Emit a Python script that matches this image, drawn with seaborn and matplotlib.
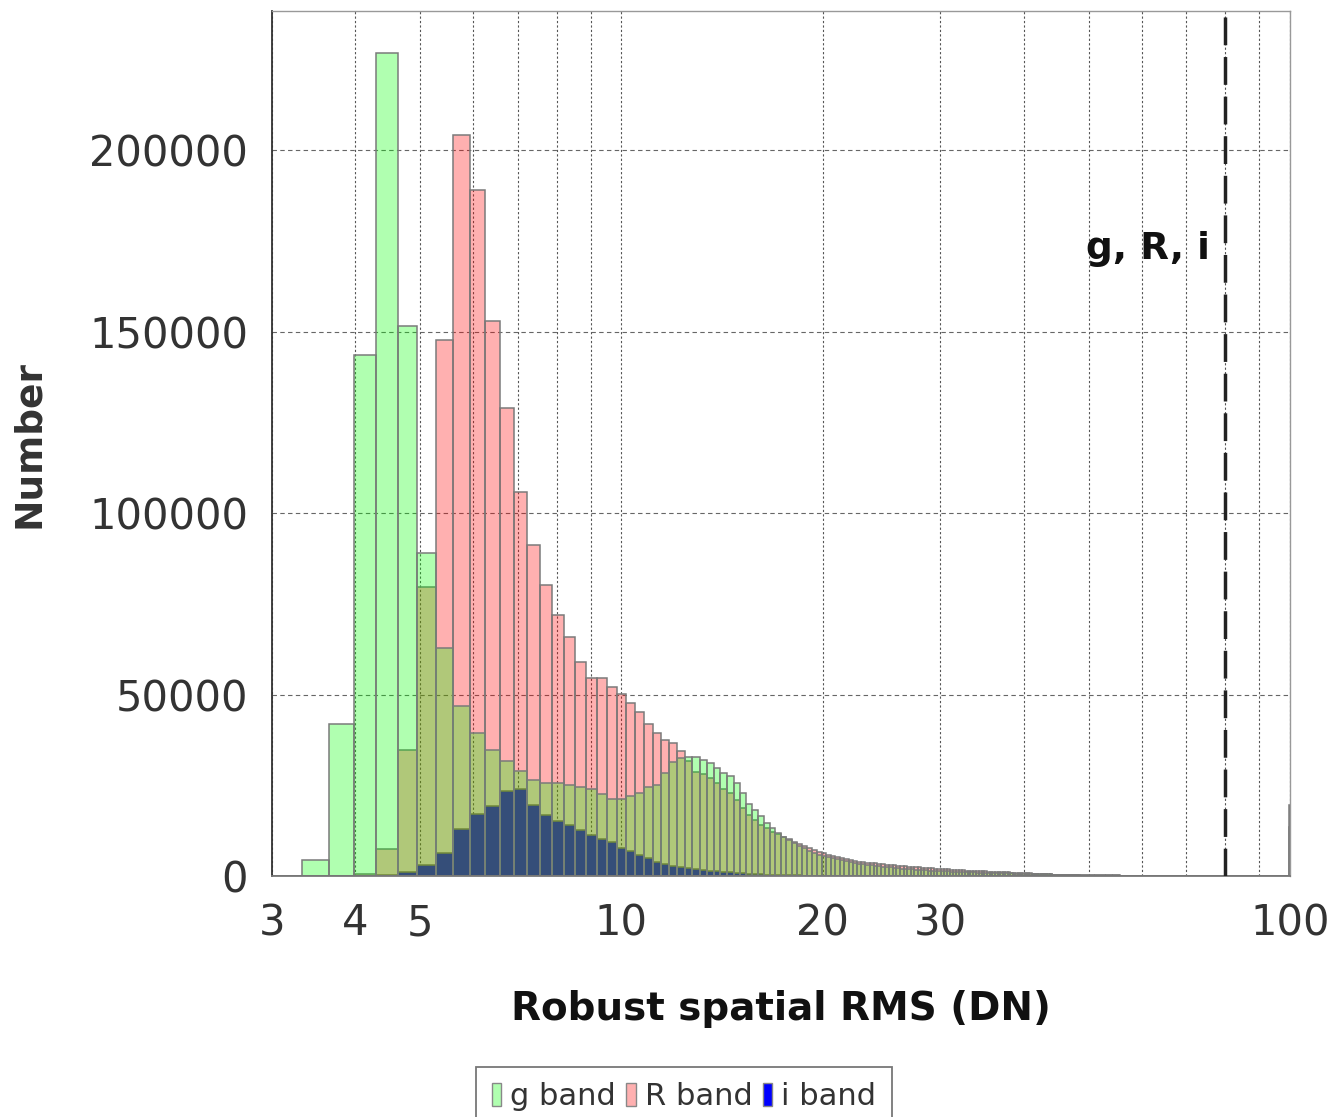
import numpy as np
import pandas as pd
import matplotlib
matplotlib.use("Agg")
import matplotlib.pyplot as plt
import seaborn as sns
from matplotlib.patches import Patch
from matplotlib.ticker import FixedLocator, FixedFormatter, NullFormatter

# ---------------- data ----------------
bin_lo, bin_hi, n_bins = 3.0, 100.0, 298

g_counts = [
    0, 4500, 42000, 143500, 226800, 151500, 89000, 62700, 46800, 39300,
    34700, 31700, 29000, 26400, 25500, 25500, 25000, 24400, 24100, 22600,
    21200, 21200, 22100, 23000, 24600, 25100, 28500, 31300, 32400, 32900,
    32700, 32000, 31000, 29700, 28500, 27500, 25500, 22800, 19800, 18200,
    16400, 14700, 13100, 11900, 10800, 9800, 9000, 8300, 7600, 7000,
    6400, 5900, 5500, 5200, 4900, 4600, 4300, 4050, 3800, 3550,
    3350, 3200, 3050, 2900, 2780, 2660, 2550, 2450, 2350, 2250,
    2150, 2060, 1980, 1900, 1820, 1750, 1680, 1620, 1560, 1510,
    1460, 1420, 1380, 1340, 1300, 1260, 1220, 1180, 1140, 1110,
    1080, 1050, 1020, 1000, 980, 950, 930, 900, 880, 860,
    840, 820, 800, 780, 760, 740, 720, 700, 690, 670,
    650, 630, 610, 590, 570, 550, 540, 520, 510, 500,
    480, 470, 460, 440, 430, 420, 410, 400, 390, 380,
    370, 360, 350, 340, 330, 320, 310, 300, 295, 290,
    280, 270, 265, 260, 250, 245, 240, 230, 225, 220,
    210, 205, 200, 190, 185, 180, 170, 165, 160, 150,
    145, 140, 135, 130, 125, 120, 115, 110, 105, 100,
]

r_counts = [
    0, 0, 0, 500, 7500, 34700, 79500, 147700, 204100, 189000,
    152900, 128900, 105800, 91300, 80200, 71900, 65900, 58900, 54600, 54600,
    52000, 50200, 47750, 45200, 41800, 39500, 37400, 36700, 34400, 31800,
    28700, 28000, 26900, 25500, 23900, 22800, 20900, 18600, 16800, 15400,
    14050, 13130, 12210, 11480, 10800, 10100, 9400, 8800, 8200, 7700,
    7200, 6700, 6300, 5900, 5600, 5300, 5000, 4700, 4450, 4200,
    3950, 3800, 3650, 3550, 3450, 3350, 3250, 3150, 3050, 2950,
    2850, 2750, 2650, 2570, 2500, 2430, 2370, 2300, 2230, 2160,
    2090, 2030, 1970, 1910, 1860, 1810, 1760, 1710, 1660, 1610,
    1560, 1510, 1460, 1410, 1380, 1340, 1310, 1280, 1240, 1210,
    1180, 1150, 1120, 1090, 1060, 1030, 1000, 970, 940, 910,
    880, 850, 820, 790, 760, 740, 710, 680, 650, 620,
    590, 560, 530, 500, 470, 440, 410, 380, 350, 330,
    310, 290, 270, 250, 230, 210, 200, 190, 180, 170,
]

i_counts = [
    0, 0, 0, 0, 300, 1000, 3100, 6200, 13000, 17100,
    19300, 23400, 23900, 19600, 16800, 15150, 14050, 12670, 11300, 10100,
    9300, 7800, 6900, 5800, 4870, 3950, 3300, 2850, 2450, 2150,
    1950, 1700, 1500, 1350, 1200, 1050, 920, 780, 660, 560,
    470, 400, 340, 290, 240, 200, 170, 140, 110, 90,
    70, 60, 50, 45, 40, 35, 30, 25, 20, 15,
]

overflow_g, overflow_r, overflow_i = 13500, 19500, 0

band_labels = ["g band", "R band", "i band"]
x_major_ticks = [3, 4, 5, 10, 20, 30, 100]
x_minor_ticks = [6, 7, 8, 9, 40, 50, 60, 70, 80, 90]
y_ticks = [0, 50000, 100000, 150000, 200000]
marker_x = 80
marker_text = "g, R, i"
marker_text_x, marker_text_y = 76, 170000

# ---------------- build bins ----------------
edges = [float(e) for e in np.linspace(bin_lo, bin_hi, n_bins + 1)]
centers = [0.5 * (a + b) for a, b in zip(edges[:-1], edges[1:])]


def full(counts, last):
    arr = np.zeros(n_bins)
    arr[:len(counts)] = counts
    arr[-1] = last
    return arr


df = pd.DataFrame({
    "rms": centers,
    "g": full(g_counts, overflow_g),
    "R": full(r_counts, overflow_r),
    "i": full(i_counts, overflow_i),
})

# ---------------- style ----------------
sns.set_style("white")
plt.rcParams["font.family"] = ["DejaVu Sans"]

fig = plt.figure(figsize=(13.34, 11.17), dpi=100)
W, H = 1334, 1117
ax = fig.add_axes([271.7 / W, 1 - 876 / H, (1290 - 271.7) / W, (876 - 11) / H])

edge_col = "#7a7a7a"
series = [
    ("i", "#0000ff", 1.0),
    ("R", "#ff0000", 0.31),
    ("g", "#00ff00", 0.31),
]
for col_name, col, a in series:
    sns.histplot(data=df, x="rms", weights=col_name, bins=edges, color=col, alpha=a,
                 edgecolor=edge_col, linewidth=1.1, ax=ax, zorder=2)

ax.set_xscale("log")
ax.set_xlim(3, 100)
ax.set_ylim(0, 238300)

ax.xaxis.set_major_locator(FixedLocator(x_major_ticks))
ax.xaxis.set_major_formatter(FixedFormatter([str(v) for v in x_major_ticks]))
ax.xaxis.set_minor_locator(FixedLocator(x_minor_ticks))
ax.xaxis.set_minor_formatter(NullFormatter())
ax.yaxis.set_major_locator(FixedLocator(y_ticks))
ax.yaxis.set_major_formatter(FixedFormatter([str(v) for v in y_ticks]))

ax.set_axisbelow(True)
ax.grid(axis="x", which="both", linestyle=(0, (2, 2)), color="#555555", linewidth=0.8)
ax.grid(axis="y", which="major", linestyle=(0, (4, 3)), color="#666666", linewidth=0.8)

ax.tick_params(axis="both", which="both", direction="out", length=7, width=1,
               color="#777777", labelsize=30, labelcolor="#333333")
ax.tick_params(axis="x", which="both", pad=12)
ax.tick_params(axis="y", which="both", pad=10)

for side in ["top", "right"]:
    ax.spines[side].set_color("#999999")
    ax.spines[side].set_linewidth(1.0)
ax.spines["left"].set_color("#333333")
ax.spines["left"].set_linewidth(1.3)
ax.spines["bottom"].set_color("#777777")
ax.spines["bottom"].set_linewidth(1.3)

ax.axvline(marker_x, color="#222222", linewidth=2.5, linestyle=(0, (8, 3.4)), zorder=3)
ax.text(marker_text_x, marker_text_y, marker_text, ha="right", va="baseline",
        fontsize=27, fontweight="bold", color="#111111")

ax.set_xlabel("Robust spatial RMS (DN)", fontsize=28, fontweight="bold",
              color="#111111", labelpad=33)
ax.set_ylabel("Number", fontsize=27, fontweight="bold", color="#333333", labelpad=30)

handles = [
    Patch(facecolor=(0.69, 1.0, 0.69), edgecolor="#888888", linewidth=1.0),
    Patch(facecolor=(1.0, 0.69, 0.69), edgecolor="#888888", linewidth=1.0),
    Patch(facecolor="#0000ff", edgecolor="#888888", linewidth=1.0),
]
leg = fig.legend(handles, band_labels, loc="upper center",
                 bbox_to_anchor=(684 / W, 1 - 1067 / H), ncol=3, frameon=True,
                 fancybox=False, fontsize=22, handlelength=0.3, handleheight=0.75,
                 handletextpad=0.3, columnspacing=0.35, borderpad=0.5,
                 borderaxespad=0.0, labelcolor="#333333")
leg.get_frame().set_edgecolor("#555555")
leg.get_frame().set_linewidth(1.3)

fig.savefig("out.png", dpi=100)
